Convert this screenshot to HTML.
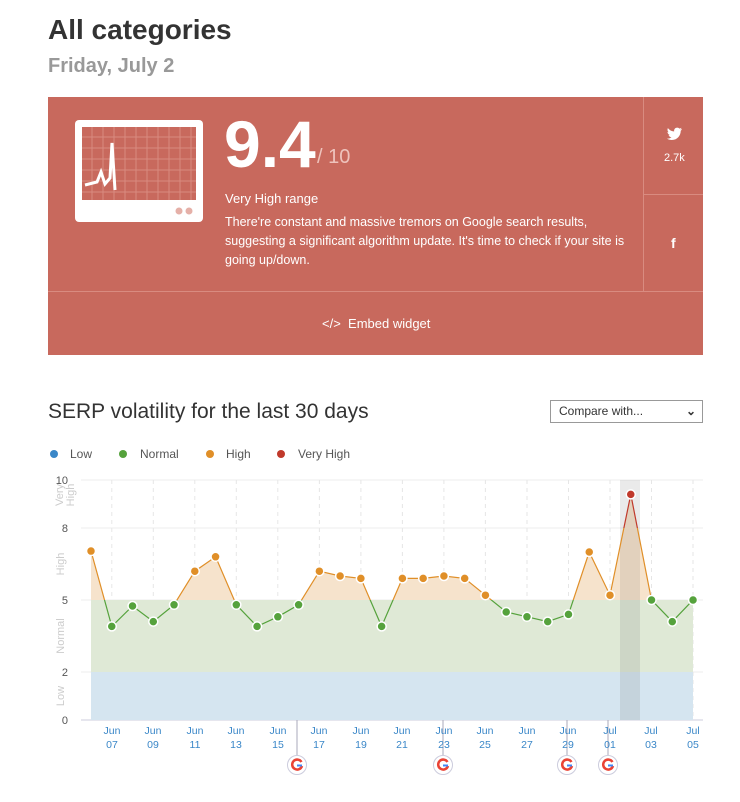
<!DOCTYPE html>
<html><head><meta charset="utf-8"><style>
body{margin:0;width:740px;height:802px;background:#fff;font-family:"Liberation Sans",sans-serif;position:relative;overflow:hidden}
.a{position:absolute}
</style></head><body>
<div class="a" style="left:48px;top:14px;font-size:28px;font-weight:bold;color:#333">All categories</div>
<div class="a" style="left:48px;top:55px;font-size:20px;font-weight:bold;color:#999">Friday, July 2</div>
<div class="a" style="left:48px;top:97px;width:655px;height:258px;background:#c8695d"></div>
<div class="a" style="left:48px;top:291px;width:655px;height:1px;background:#d98b80"></div>
<div class="a" style="left:643px;top:97px;width:1px;height:194px;background:#d98b80"></div>
<div class="a" style="left:644px;top:194px;width:59px;height:1px;background:#d98b80"></div>
<svg class="a" style="left:667px;top:127px" width="16" height="14"><path d="M15 2c-.6.3-1.1.4-1.8.5.6-.4 1.1-1 1.3-1.7-.6.4-1.3.6-2 .8C11.9 1 11.1.6 10.2.6 8.5.6 7.1 2 7.1 3.7c0 .2 0 .5.1.7C4.6 4.3 2.4 3 .9 1.1.6 1.6.5 2.1.5 2.7c0 1.1.5 2 1.4 2.6-.5 0-1-.2-1.4-.4 0 1.5 1.1 2.8 2.5 3.1-.5.1-1 .2-1.4.1.4 1.2 1.6 2.1 2.9 2.2C3.400 11.200 1.800 11.800 0 11.600c1.400.900 3 1.400 4.800 1.400 5.700 0 8.900-4.800 8.900-8.900v-.4c.6-.4 1.100-1 1.300-1.700z" fill="#fff"/></svg>
<div class="a" style="left:664px;top:152px;color:#fff;font-size:11px">2.7k</div>
<div class="a" style="left:671px;top:235px;color:#fff;font-size:14px;font-weight:bold">f</div>
<div class="a" style="left:322px;top:316px;color:#fff;font-size:13px">&lt;/&gt;&nbsp; Embed widget</div>
<svg class="a" style="left:75px;top:120px" width="128" height="102">
<rect x="0" y="0" width="128" height="102" rx="4" fill="#fff"/>
<rect x="7" y="7" width="114" height="73" fill="#c8695d"/>
<g stroke="#d98b80" stroke-width="1">
<path d="M17 7V80M28 7V80M39 7V80M50 7V80M61 7V80M72 7V80M83 7V80M94 7V80M105 7V80M116 7V80M7 17H121M7 28H121M7 39H121M7 50H121M7 61H121M7 72H121"/></g>
<path d="M10 65 L22 62 L26 52 L30 64 L35 58 L37 23 L40 70" stroke="#fff" stroke-width="3" fill="none"/>
<circle cx="104" cy="91" r="3.5" fill="#e5b0a8"/><circle cx="114" cy="91" r="3.5" fill="#e5b0a8"/>
</svg>
<div class="a" style="left:224px;top:106px;font-size:66px;font-weight:bold;color:#fff">9.4</div>
<div class="a" style="left:317px;top:146px;font-size:20px;color:#eec3bc">/ 10</div>
<div class="a" style="left:225px;top:191px;font-size:13px;color:#fff">Very High range</div>
<div class="a" style="left:225px;top:213px;width:420px;font-size:12.5px;line-height:19px;color:#fff">There're constant and massive tremors on Google search results, suggesting a significant algorithm update. It's time to check if your site is going up/down.</div>
<div class="a" style="left:48px;top:400px;font-size:21px;color:#333">SERP volatility for the last 30 days</div>
<div class="a" style="left:550px;top:400px;width:151px;height:21px;border:1px solid #999;font-size:12px;line-height:21px;color:#333;box-sizing:content-box"><span style="margin-left:8px">Compare with...</span><span style="position:absolute;right:6px;font-weight:bold">&#8964;</span></div>
<svg class="a" style="left:0;top:440px" width="740" height="30" font-size="12" fill="#555">
<circle cx="54" cy="14" r="4" fill="#3a87c8"/><text x="70" y="18">Low</text>
<circle cx="123" cy="14" r="4" fill="#55a23c"/><text x="140" y="18">Normal</text>
<circle cx="210" cy="14" r="4" fill="#e08f28"/><text x="226" y="18">High</text>
<circle cx="281" cy="14" r="4" fill="#c0392b"/><text x="298" y="18">Very High</text>
</svg>
<svg id="ch" class="a" style="left:0;top:0" width="740" height="802" font-family="Liberation Sans" font-size="11">
<defs>
<clipPath id="cO"><rect x="0" y="528" width="740" height="72"/></clipPath>
<clipPath id="cR"><rect x="0" y="0" width="740" height="528"/></clipPath>
<clipPath id="cG"><rect x="0" y="600" width="740" height="200"/></clipPath>
</defs>
<g stroke="#eee"><path d="M81 480H703M81 528H703M81 600H703M81 672H703"/></g>
<path d="M81 720H703" stroke="#ccd"/>
<g id="vg" stroke="#e6e6e6" stroke-dasharray="4,4"></g>
<rect x="91" y="672" width="602" height="48" fill="#d5e5f0"/>
<rect x="91" y="600" width="602" height="72" fill="#dfe9d6"/>
<path id="arO" clip-path="url(#cO)" fill="#f6e3cc"/>
<path id="arR" clip-path="url(#cR)" fill="#f6e3cc"/>
<rect x="620" y="480" width="20" height="240" fill="rgba(80,80,80,0.12)"/>
<polyline id="lO" clip-path="url(#cO)" fill="none" stroke="#e08f28" stroke-width="1.2"/>
<polyline id="lR" clip-path="url(#cR)" fill="none" stroke="#c0392b" stroke-width="1.2"/>
<polyline id="lG" clip-path="url(#cG)" fill="none" stroke="#55a23c" stroke-width="1.2"/>
<g id="pts"></g>
<g fill="#555" text-anchor="end"><text x="68" y="484">10</text><text x="68" y="532">8</text><text x="68" y="604">5</text><text x="68" y="676">2</text><text x="68" y="724">0</text></g>
<g fill="#ccc" font-size="11" text-anchor="middle">
<text transform="translate(63,495) rotate(-90)">Very</text><text transform="translate(74,495) rotate(-90)">High</text>
<text transform="translate(64,564) rotate(-90)">High</text>
<text transform="translate(64,636) rotate(-90)">Normal</text>
<text transform="translate(64,696) rotate(-90)">Low</text>
</g>
<g id="gg"></g>
<g fill="#3a87c8" text-anchor="middle" font-size="10.5">
<text x="112" y="734">Jun</text><text x="112" y="748">07</text>
<text x="153" y="734">Jun</text><text x="153" y="748">09</text>
<text x="195" y="734">Jun</text><text x="195" y="748">11</text>
<text x="236" y="734">Jun</text><text x="236" y="748">13</text>
<text x="278" y="734">Jun</text><text x="278" y="748">15</text>
<text x="319" y="734">Jun</text><text x="319" y="748">17</text>
<text x="361" y="734">Jun</text><text x="361" y="748">19</text>
<text x="402" y="734">Jun</text><text x="402" y="748">21</text>
<text x="444" y="734">Jun</text><text x="444" y="748">23</text>
<text x="485" y="734">Jun</text><text x="485" y="748">25</text>
<text x="527" y="734">Jun</text><text x="527" y="748">27</text>
<text x="568" y="734">Jun</text><text x="568" y="748">29</text>
<text x="610" y="734">Jul</text><text x="610" y="748">01</text>
<text x="651" y="734">Jul</text><text x="651" y="748">03</text>
<text x="693" y="734">Jul</text><text x="693" y="748">05</text>
</g>
</svg>
<script>
var v=[7.04,3.9,4.75,4.1,4.8,6.2,6.8,4.8,3.9,4.3,4.8,6.2,6.0,5.9,3.9,5.9,5.9,6.0,5.9,5.2,4.5,4.3,4.1,4.4,7.0,5.2,9.4,5.0,4.1,5.0];
var ns="http://www.w3.org/2000/svg",P=[];
for(var i=0;i<v.length;i++)P.push([91+i*20.76,720-v[i]*24]);
var s=P.map(function(p){return p[0].toFixed(1)+","+p[1].toFixed(1)}).join(" ");
["lO","lR","lG"].forEach(function(id){document.getElementById(id).setAttribute("points",s)});
var a="M91,720 L"+s.replace(/ /g," L")+" L693,720Z";
document.getElementById("arO").setAttribute("d",a);document.getElementById("arR").setAttribute("d",a);
var vg=document.getElementById("vg"),d="";
for(var i=1;i<30;i+=2)d+="M"+(91+i*20.76).toFixed(1)+" 480V720";
var pe=document.createElementNS(ns,"path");pe.setAttribute("d",d);vg.appendChild(pe);
var g=document.getElementById("pts");
P.forEach(function(p,i){var c=document.createElementNS(ns,"circle");c.setAttribute("cx",p[0]);c.setAttribute("cy",p[1]);c.setAttribute("r",4.5);
c.setAttribute("fill",v[i]>8?"#c0392b":v[i]>5?"#e08f28":"#55a23c");c.setAttribute("stroke","#fff");c.setAttribute("stroke-width",1.5);g.appendChild(c)});
var gg=document.getElementById("gg"),h="";
[297,443,567,608].forEach(function(x){
h+='<path d="M'+x+' 720V755" stroke="#aab"/><circle cx="'+x+'" cy="765" r="9.5" fill="#fff" stroke="#ccd"/>'+
'<path d="M'+(x+4.5)+' 762 A5 5 0 1 0 '+(x+5)+' 766" fill="none" stroke="#ea4335" stroke-width="2.5"/><path d="M'+x+' 765.5h5" stroke="#4285f4" stroke-width="2"/>';});
gg.innerHTML=h;
</script>
</body></html>
